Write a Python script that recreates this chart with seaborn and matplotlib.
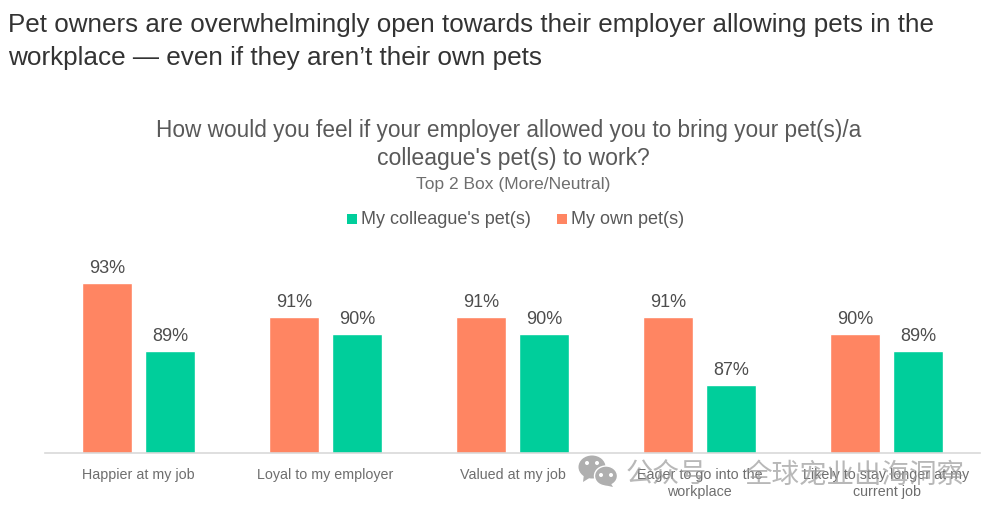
import matplotlib
matplotlib.use("Agg")
import matplotlib.pyplot as plt
from matplotlib.patches import Ellipse, Polygon
import pandas as pd
import seaborn as sns

categories = ["Happier at my job", "Loyal to my employer", "Valued at my job",
              "Eager to go into the\nworkplace", "Likely to stay longer at my\ncurrent job"]
own_pet = [93, 91, 91, 91, 90]
colleague_pet = [89, 90, 90, 87, 89]
series_names = ["My own pet(s)", "My colleague's pet(s)"]
colors = ["#FF8562", "#00CE9B"]

df = pd.DataFrame({"Category": categories, series_names[0]: own_pet, series_names[1]: colleague_pet})
df_melted = df.melt(id_vars="Category", var_name="Series", value_name="Value")

sns.set_theme(style="white")
plt.rcParams["font.family"] = ["Liberation Sans", "Noto Sans CJK SC", "DejaVu Sans"]

W, H = 1000, 512
fig = plt.figure(figsize=(10, 5.12), dpi=100)
ax = fig.add_axes([45 / W, 1 - 453 / H, 935 / W, 210 / H])

sns.barplot(data=df_melted, x="Category", y="Value", hue="Series", hue_order=series_names,
            palette=colors, width=0.674, gap=0.195, saturation=1, legend=False, ax=ax)
ax.set_ylim(83.0, 95.35)
ax.set_xlim(-0.5, 4.5)
ax.set_xlabel("")
ax.set_ylabel("")
ax.set_yticks([])
sns.despine(ax=ax, left=True)
ax.spines["bottom"].set_color("#D9D9D9")
ax.spines["bottom"].set_linewidth(1.2)
ax.tick_params(axis="x", length=0, pad=11, labelsize=10.3, labelcolor="#6E6E6E")
for lab in ax.get_xticklabels():
    lab.set_linespacing(1.25)
    lab.set_verticalalignment("top")

for container in ax.containers:
    ax.bar_label(container, fmt="%d%%", padding=4.5, fontsize=13, color="#4D4D4D")

# slide title
fig.text(8 / W, 1 - 25 / H, "Pet owners are overwhelmingly open towards their employer allowing pets in the",
         fontsize=18.7, color="#333333", va="center", ha="left")
fig.text(8 / W, 1 - 58 / H, "workplace \u2014 even if they aren\u2019t their own pets",
         fontsize=18.8, color="#333333", va="center", ha="left")

# chart title
fig.text(509 / W, 1 - 130 / H, "How would you feel if your employer allowed you to bring your pet(s)/a",
         fontsize=16.25, color="#595959", va="center", ha="center")
fig.text(513 / W, 1 - 159 / H, "colleague's pet(s) to work?",
         fontsize=16.6, color="#595959", va="center", ha="center")
fig.text(513 / W, 1 - 184 / H, "Top 2 Box (More/Neutral)",
         fontsize=12.5, color="#6E6E6E", va="center", ha="center")

# legend, colleague first
overlay = fig.add_axes([0, 0, 1, 1], zorder=5)
overlay.set_xlim(0, W)
overlay.set_ylim(H, 0)
overlay.axis("off")
overlay.patch.set_alpha(0)
overlay.add_patch(plt.Rectangle((347, 214), 10, 10, color=colors[1], lw=0))
overlay.text(361, 220, series_names[1], fontsize=13, color="#595959", va="center", ha="left")
overlay.add_patch(plt.Rectangle((557, 214), 10, 10, color=colors[0], lw=0))
overlay.text(571, 220, series_names[0], fontsize=13, color="#595959", va="center", ha="left")

# watermark
wm = "#9A9A9A"
overlay.add_patch(Ellipse((592, 467), 27, 23, color="#AFAFAF", lw=0))
overlay.add_patch(Polygon([[584, 474], [583, 482], [591, 477]], color="#AFAFAF", lw=0))
overlay.add_patch(Ellipse((606, 476), 23, 20, facecolor="#AFAFAF", edgecolor="white", lw=1))
overlay.add_patch(Polygon([[610, 482], [613, 487], [604, 485]], color="#AFAFAF", lw=0))
for ex, ey in [(587, 463), (597, 463), (601, 475), (611, 475)]:
    overlay.add_patch(Ellipse((ex, ey), 4, 4, color="white", lw=0))
overlay.text(626, 476, "公众号", fontsize=19.5, color=wm, alpha=0.7, va="center", ha="left")
overlay.text(744, 476, "全球宠业出海洞察", fontsize=19.8, color=wm, alpha=0.7, va="center", ha="left")

plt.savefig("out.png", dpi=100)
